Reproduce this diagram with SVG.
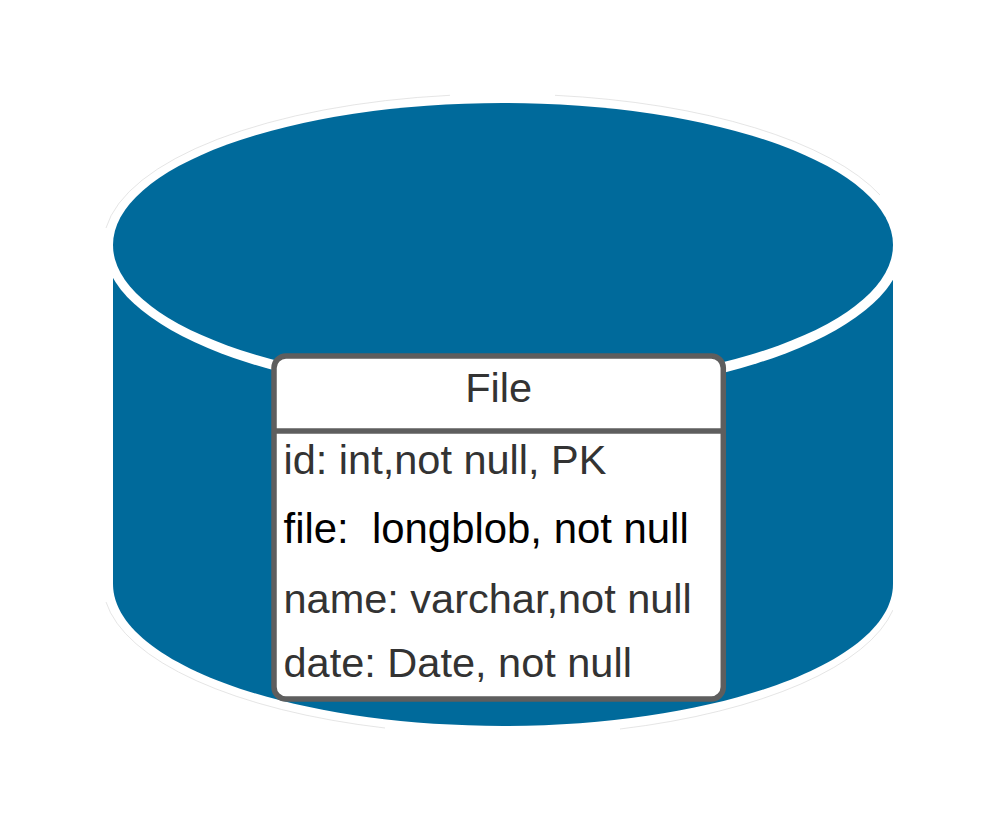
<svg xmlns="http://www.w3.org/2000/svg" width="992" height="823" viewBox="0 0 992 823">
<style>
.t{font-family:"Liberation Sans",Arial,sans-serif;font-size:41.500px;fill:#333}
.k{fill:#000;font-size:41.900px}
.faint{fill:none;stroke:#d4d4d4;stroke-width:.6}
</style>
<defs><clipPath id="c"><rect x="105" y="0" width="788" height="823"/></clipPath></defs>
<rect width="992" height="823" fill="#fff"/>
<g id="cylinder" clip-path="url(#c)">
<path d="M113 245V584C113 662 288 726 503 726S893 662 893 584V245Z" fill="#006a9b"/>
<ellipse cx="503.500" cy="245" rx="400" ry="153" fill="#fff"/>
<ellipse cx="503" cy="245" rx="390" ry="142" fill="#006a9b"/>
<path class="faint" d="M106 228A399 151 0 0 1 450 95.300M555 95.300A399 151 0 0 1 880 195"/>
<path class="faint" d="M106 602A399 151 0 0 0 385 728M620 729A399 151 0 0 0 893 610"/>
</g>
<g id="file-table">
<rect x="274" y="356" width="449.300" height="343" rx="12" fill="#fff" stroke="#5e5e5e" stroke-width="5.500"/>
<path d="M276 431H721" stroke="#5e5e5e" stroke-width="5.500" fill="none"/>
<text class="t" x="498.700" y="401.800" text-anchor="middle">File</text>
<text class="t" x="283.500" y="473.500">id: int,not null, PK</text>
<text class="t k" x="283.500" y="542.500" xml:space="preserve">file:  longblob, not null</text>
<text class="t" x="283.500" y="612.500">name: varchar,not null</text>
<text class="t" x="283.500" y="676.800">date: Date, not null</text>
</g>
</svg>
